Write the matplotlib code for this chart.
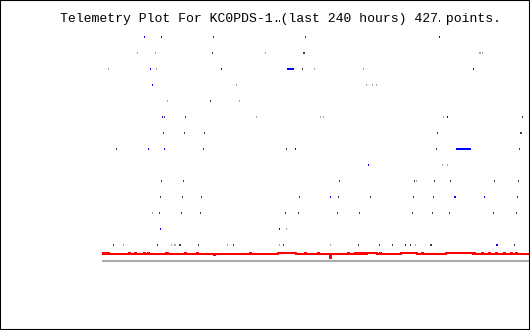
import matplotlib
matplotlib.use("Agg")
import matplotlib.pyplot as plt
from matplotlib.patches import Rectangle

# ---- data (sample index 0..427, one per telemetry point) ----
title = "Telemetry Plot For KC0PDS-1.(last 240 hours) 427 points."
n_points = 428

# levels (channel rows) -> sample indices, by colour
blue_dots = {
    15: [177, 337],
    14: [42, 59, 337],
    12: [48, 119, 371],
    11: [50],
    9: [60, 345],
    7: [46, 62, 193],
    6: [266],
    4: [228, 352, 353, 382],
    2: [58, 177],
    1: [303, 394, 395],
}
dark_dots = {
    14: [111, 203],
    13: [110, 201, 202],
    12: [200],
    10: [108, 427],
    9: [62, 83, 420],
    8: [61, 82, 102, 335, 418, 419],
    7: [14, 101, 184, 334, 417],
    5: [59, 81, 237, 312, 332, 348, 392, 416],
    4: [58, 80, 99, 197, 236, 268, 311, 331, 415],
    3: [57, 79, 98, 183, 196, 235, 257, 310, 330, 347, 391, 414],
    1: [11, 55, 77, 78, 96, 131, 181, 256, 277, 290, 308, 328, 329, 412],
}
light_dots = {
    13: [35, 53, 163, 377, 378, 380],
    12: [6, 54, 212, 261],
    11: [134, 264, 270, 274],
    10: [65, 137],
    9: [154, 218, 221, 341],
    6: [340, 345],
    5: [314],
    3: [50],
    2: [184],
    1: [21, 69, 72, 73, 125, 177, 228, 313],
}
# blue runs: (level, first index, last index)
blue_runs = [(12, 185, 191), (7, 354, 368)]

# baseline markers
base_ticks = [6, 21, 35, 50, 53, 54, 65, 69, 73, 77, 125, 135, 137, 154, 163,
              177, 212, 218, 221, 228, 261, 264, 274, 313, 314, 340, 341, 345,
              367, 376, 378, 380]
base_green = [185]

# red trace as step breakpoints (index, level)
B, H, L, D = 0.4375, 0.5, 0.375, 0.19
red_x = [0, 1, 3, 4, 6, 7, 27, 28, 33, 34, 42, 43, 46, 47, 64, 66, 83, 84, 95, 96,
         112, 113, 148, 149, 176, 194, 203, 204, 216, 217, 228, 229, 246, 247,
         253, 254, 256, 257, 259, 260, 262, 263, 265, 275, 278, 279, 299, 315,
         320, 321, 344, 371, 372, 373, 380, 381, 387, 388, 394, 395, 402, 403,
         409, 410, 414, 415, 428]
red_y = [H, B, H, B, H, B, H, B, H, B, H, B, H, B, H, B, H, B, H, B,
         L, B, H, B, H, B, H, B, H, B, D, B, H, B,
         H, B, H, B, H, B, H, B, H, B, H, B, H, B,
         H, B, H, B, H, B, H, B, H, B, H, B, H, B,
         H, B, H, B, B]

BLUE = "#0000ff"
DARK = "#3c3c3c"
LIGHT = "#a9a9a9"
RED = "#ff0000"
GREEN = "#00ff00"

W, Hh = 530, 330
fig = plt.figure(figsize=(W / 100, Hh / 100), dpi=100, facecolor="white")
px = 1 / 16.0  # one pixel in level units
ax = fig.add_axes([102 / W, 65 / Hh, 428 / W, 248 / Hh])
ax.set_xlim(-0.5, n_points - 0.5)
ax.set_ylim(-0.25, 15.25)
ax.axis("off")

def draw_dots(d, color):
    for lev, xs in d.items():
        ax.bar(xs, 2 * px, bottom=lev - px, width=1, color=color,
               linewidth=0, antialiased=False)

# baseline
ax.axhline(0, color=LIGHT, lw=1.44, antialiased=False, solid_capstyle="butt")
ax.bar(base_ticks, 2 * px, bottom=-px, width=1, color=DARK, linewidth=0, antialiased=False)
ax.bar(base_green, 2 * px, bottom=-px, width=1, color=GREEN, linewidth=0, antialiased=False)

# red trace
ax.step([x - 0.5 for x in red_x], red_y, where="post", color=RED, lw=1.44,
        antialiased=False, solid_joinstyle="miter", solid_capstyle="butt")

draw_dots(light_dots, LIGHT)
draw_dots(dark_dots, DARK)
draw_dots(blue_dots, BLUE)
for lev, a, b in blue_runs:
    ax.bar(a - 0.5, 2 * px, bottom=lev - px, width=b - a + 1, align="edge",
           color=BLUE, linewidth=0, antialiased=False)

fig.text(60 / W, (Hh - 22) / Hh, title, family=["Liberation Mono", "DejaVu Sans Mono"],
         fontsize=9.45, color="black", ha="left", va="baseline", zorder=0)

fig.patches.append(Rectangle((0, 0), 1, 1, transform=fig.transFigure, fill=False,
                             ec="black", lw=1.5))
fig.savefig("out.png", dpi=100, facecolor="white")
